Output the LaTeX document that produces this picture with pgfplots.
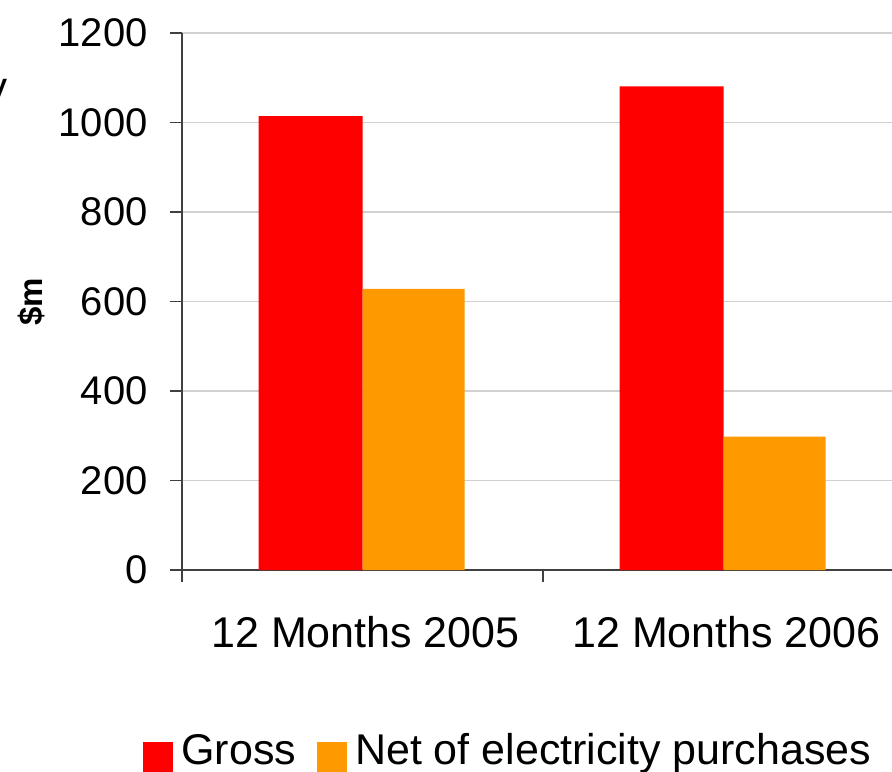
\documentclass[border=0pt]{standalone}
\usepackage{fontspec}
\setmainfont{Liberation Sans}
\usepackage{pgfplots}
\pgfplotsset{compat=1.18}
\definecolor{gross}{HTML}{FF0000}
\definecolor{netc}{HTML}{FF9900}
\definecolor{axgray}{HTML}{404040}
\pgfplotsset{sqlegend/.style={legend image code/.code={\fill[##1] (0pt,-10.5pt) rectangle (15pt,4.5pt);}}}
\begin{document}
\begin{tikzpicture}
\begin{axis}[
 at={(0pt,0pt)}, anchor=south west,
 scale only axis, width=361pt, height=268.5pt,
 xmin=0, xmax=2, ymin=0, ymax=1200,
 enlarge x limits=false, enlarge y limits=false,
 ybar=0pt, bar width=52pt,
 axis x line*=bottom, axis y line*=left,
 axis line style={color=axgray, line width=0.6pt},
 tick align=outside, major tick length=6pt,
 tick style={color=axgray, line width=0.6pt},
 xtick={0,1,2}, xticklabels={12 Months 2005,12 Months 2006},
 x tick label as interval,
 ytick={0,200,...,1200},
 ymajorgrids, grid style={color=black!18, line width=0.7pt},
 /pgf/number format/assume math mode=true,
 /pgf/number format/1000 sep={},
 ticklabel style={font=\fontsize{21.5}{25}\selectfont},
 yticklabel style={font=\fontsize{20}{24}\selectfont, inner sep=0pt, xshift=-11pt},
 xticklabel style={inner sep=0pt, anchor=north, yshift=-17pt, xshift=1.5pt},
 ylabel={\$m},
 every axis y label/.style={at={([xshift=-75.5pt]axis description cs:0,0.5)}, rotate=90, anchor=center, font=\bfseries\fontsize{16.5}{19}\selectfont},
 legend columns=2,
 legend style={draw=none, fill=none, at={(-0.054,-0.3043)}, anchor=north west, inner sep=0pt, font=\fontsize{21.5}{25}\selectfont, nodes={inner sep=0pt}, column sep=4pt, /tikz/every even column/.append style={column sep=10.5pt}},
]
\addplot[fill=gross, draw=none, sqlegend] coordinates {(0.5,1014) (1.5,1081)};
\addplot[fill=netc, draw=none, sqlegend, bar width=51pt, bar shift=25.5pt] coordinates {(0.5,628) (1.5,298)};
\legend{Gross, Net of electricity purchases}
\end{axis}
\node[anchor=base east, font=\fontsize{21}{25}\selectfont, inner sep=0pt] at (-87pt,234pt) {y};
\pgfresetboundingbox
\useasboundingbox (-91pt,-100.5pt) rectangle (355pt,285pt);
\end{tikzpicture}
\end{document}
